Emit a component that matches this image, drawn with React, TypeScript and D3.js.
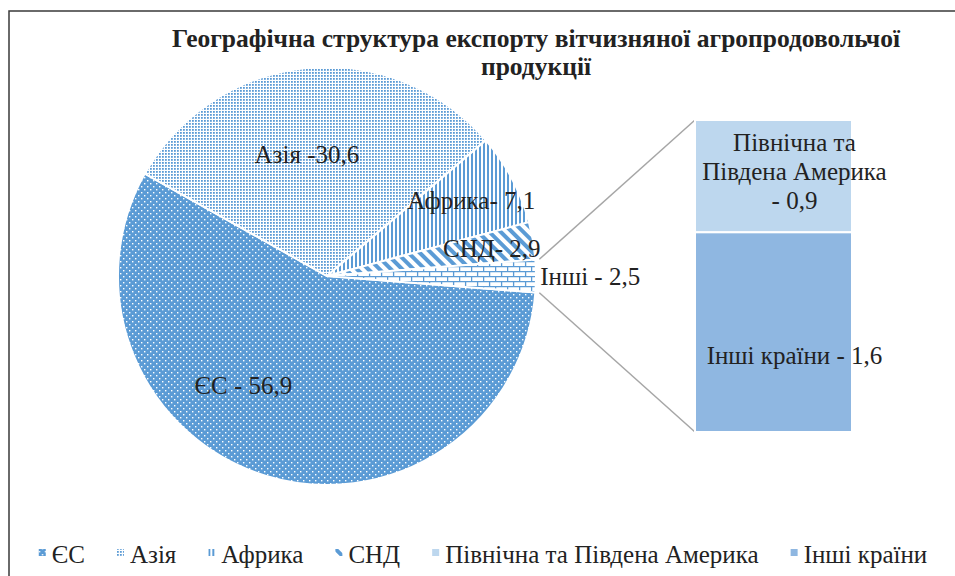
import { useEffect, useRef } from 'react';
import * as d3 from 'd3';

// main pie: regions and their shares, %
const regions = ['ЄС', 'Азія', 'Африка', 'СНД', 'Інші'];
const shares = [56.9, 30.6, 7.1, 2.9, 2.5];
const pieLabels = ['ЄС - 56,9', 'Азія -30,6', 'Африка- 7,1', 'СНД- 2,9', 'Інші - 2,5'];

// breakdown of "Інші" in the secondary bar
const otherRegions = ['Північна та Південа Америка', 'Інші країни'];
const otherShares = [0.9, 1.6];
const otherLabels = [['Північна та', 'Південа Америка', '- 0,9'], ['Інші країни - 1,6']];

const legendNames = ['ЄС', 'Азія', 'Африка', 'СНД', 'Північна та Південа Америка', 'Інші країни'];
const titleLines = ['Географічна структура експорту вітчизняної агропродовольчої', 'продукції'];

const BLUE = '#5b9bd5';
const INK = '#222';
const FONT = 'Liberation Serif, Times New Roman, serif';

export default function App() {
  const svgRef = useRef<SVGSVGElement | null>(null);

  useEffect(() => {
    if (!svgRef.current) return;
    const svg = d3.select(svgRef.current);
    svg.selectAll('*').remove();

    const W = 955;
    const H = 576;
    const cx = 327;
    const cy = 276;
    const R = 209;

    const defs = svg.append('defs');

    // ЄС: blue with white dots
    const pEU = defs.append('pattern').attr('id', 'p-eu').attr('patternUnits', 'userSpaceOnUse')
      .attr('width', 6).attr('height', 6);
    pEU.append('rect').attr('width', 6).attr('height', 6).attr('fill', BLUE);
    pEU.append('rect').attr('x', 0).attr('y', 0).attr('width', 1.4).attr('height', 1.4).attr('fill', '#fff');
    pEU.append('rect').attr('x', 3).attr('y', 3).attr('width', 1.4).attr('height', 1.4).attr('fill', '#fff');

    // Азія: small blue dots on white
    const pAs = defs.append('pattern').attr('id', 'p-asia').attr('patternUnits', 'userSpaceOnUse')
      .attr('width', 3).attr('height', 3);
    pAs.append('rect').attr('width', 3).attr('height', 3).attr('fill', '#fff');
    pAs.append('rect').attr('width', 1.8).attr('height', 1.8).attr('fill', BLUE);

    // Африка: narrow vertical lines
    const pAf = defs.append('pattern').attr('id', 'p-africa').attr('patternUnits', 'userSpaceOnUse')
      .attr('width', 4).attr('height', 4);
    pAf.append('rect').attr('width', 4).attr('height', 4).attr('fill', '#fff');
    pAf.append('rect').attr('width', 2).attr('height', 4).attr('fill', BLUE);

    // СНД: wide downward diagonal
    const pCis = defs.append('pattern').attr('id', 'p-cis').attr('patternUnits', 'userSpaceOnUse')
      .attr('width', 8).attr('height', 8).attr('patternTransform', 'rotate(-45)');
    pCis.append('rect').attr('width', 8).attr('height', 8).attr('fill', '#fff');
    pCis.append('rect').attr('width', 4).attr('height', 8).attr('fill', BLUE);

    // Інші: horizontal brick
    const pBr = defs.append('pattern').attr('id', 'p-brick').attr('patternUnits', 'userSpaceOnUse')
      .attr('width', 12).attr('height', 10);
    pBr.append('rect').attr('width', 12).attr('height', 10).attr('fill', '#fff');
    pBr.append('path')
      .attr('d', 'M0,0.6H12M0,5.6H12M0.6,0V5M6.6,5V10')
      .attr('stroke', BLUE).attr('stroke-width', 1.3).attr('fill', 'none');

    const sliceFills = ['url(#p-eu)', 'url(#p-asia)', 'url(#p-africa)', 'url(#p-cis)', 'url(#p-brick)'];
    const barFills = ['#bdd7ee', '#8fb7e1'];
    const legendFills = [...sliceFills.slice(0, 4), ...barFills];

    // chart border
    svg.append('rect')
      .attr('x', 9).attr('y', 11).attr('width', W).attr('height', H)
      .attr('fill', 'none').attr('stroke', '#3a3a3a').attr('stroke-width', 1.5);

    // title
    const title = svg.append('text')
      .attr('x', 536).attr('y', 47)
      .attr('text-anchor', 'middle')
      .attr('font-family', FONT).attr('font-weight', 'bold').attr('font-size', 25.5)
      .attr('fill', INK);
    titleLines.forEach((t, i) => {
      title.append('tspan').attr('x', 536).attr('dy', i === 0 ? 0 : 28).text(t);
    });

    // main pie, "Інші" slice centred at 3 o'clock
    const total = d3.sum(shares);
    const otherFrac = shares[shares.length - 1] / total;
    const start = Math.PI / 2 + Math.PI * otherFrac;
    const pie = d3.pie<number>().sort(null).value(d => d).startAngle(start).endAngle(start + 2 * Math.PI);
    const arcs = pie(shares);
    const arc = d3.arc<d3.PieArcDatum<number>>().innerRadius(0).outerRadius(R);

    const g = svg.append('g').attr('transform', `translate(${cx},${cy})`);
    g.selectAll('path.slice')
      .data(arcs)
      .enter()
      .append('path')
      .attr('class', 'slice')
      .attr('d', arc)
      .attr('fill', (d, i) => sliceFills[i])
      .attr('stroke', '#fff')
      .attr('stroke-width', 2);

    // labels: radius fraction + angular nudge (deg) from slice middle
    const labelRadius = [0.66, 0.59, 0.78, 0.8, 1.02];
    const labelShift = [20.4, -3.8, 0, 0, 0];
    arcs.forEach((d, i) => {
      const a = (d.startAngle + d.endAngle) / 2 + (labelShift[i] * Math.PI) / 180;
      const r = R * labelRadius[i];
      const x = Math.sin(a) * r;
      const y = -Math.cos(a) * r;
      g.append('text')
        .attr('x', x).attr('y', y).attr('dy', '0.35em')
        .attr('text-anchor', i === arcs.length - 1 ? 'start' : 'middle')
        .attr('font-family', FONT).attr('font-size', 25).attr('fill', INK)
        .text(pieLabels[i]);
    });

    // secondary stacked bar
    const barX0 = 695;
    const barW = 157;
    const y = d3.scaleLinear().domain([0, d3.sum(otherShares)]).range([120, 432]);
    const stacked = d3.cumsum(otherShares);
    const other = arcs[arcs.length - 1];
    const rc = R + 4;
    const p1: [number, number] = [cx + Math.sin(other.startAngle) * rc, cy - Math.cos(other.startAngle) * rc];
    const p2: [number, number] = [cx + Math.sin(other.endAngle) * rc, cy - Math.cos(other.endAngle) * rc];

    svg.append('line')
      .attr('x1', p1[0]).attr('y1', p1[1]).attr('x2', barX0).attr('y2', y(0))
      .attr('stroke', '#a6a6a6').attr('stroke-width', 1.5);
    svg.append('line')
      .attr('x1', p2[0]).attr('y1', p2[1]).attr('x2', barX0).attr('y2', y(d3.sum(otherShares)))
      .attr('stroke', '#a6a6a6').attr('stroke-width', 1.5);

    const barLabelDy = [-5, 23];
    otherShares.forEach((v, i) => {
      const y0 = y(stacked[i] - v);
      const y1 = y(stacked[i]);
      svg.append('rect')
        .attr('x', barX0).attr('y', y0).attr('width', barW).attr('height', y1 - y0)
        .attr('fill', barFills[i]).attr('stroke', '#fff').attr('stroke-width', 2);
      const lines = otherLabels[i];
      const mid = (y0 + y1) / 2 + barLabelDy[i];
      const lh = 29;
      const t = svg.append('text')
        .attr('text-anchor', 'middle')
        .attr('font-family', FONT).attr('font-size', 25).attr('fill', INK);
      lines.forEach((ln, j) => {
        t.append('tspan')
          .attr('x', barX0 + barW / 2 + 21)
          .attr('y', mid + (j - (lines.length - 1) / 2) * lh)
          .attr('dy', '0.35em')
          .text(ln);
      });
    });

    // legend
    const leg = svg.append('g');
    const items = legendNames.map((name, i) => {
      const it = leg.append('g');
      it.append('rect').attr('x', 0).attr('y', -14).attr('width', 7).attr('height', 7)
        .attr('fill', legendFills[i]);
      const tx = it.append('text').attr('x', 13).attr('y', 0)
        .attr('font-family', FONT).attr('font-size', 25).attr('fill', INK).text(name);
      const w = 13 + (tx.node() as SVGTextElement).getComputedTextLength();
      return { it, w };
    });
    const gap = 32;
    const totalW = d3.sum(items, d => d.w) + gap * (items.length - 1);
    let lx = 483 - totalW / 2;
    items.forEach(({ it, w }) => {
      it.attr('transform', `translate(${lx},563)`);
      lx += w + gap;
    });
  }, []);

  return (
    <svg
      ref={svgRef}
      width={955}
      height={576}
      style={{ position: 'absolute', left: 0, top: 0, background: '#fff' }}
    />
  );
}
